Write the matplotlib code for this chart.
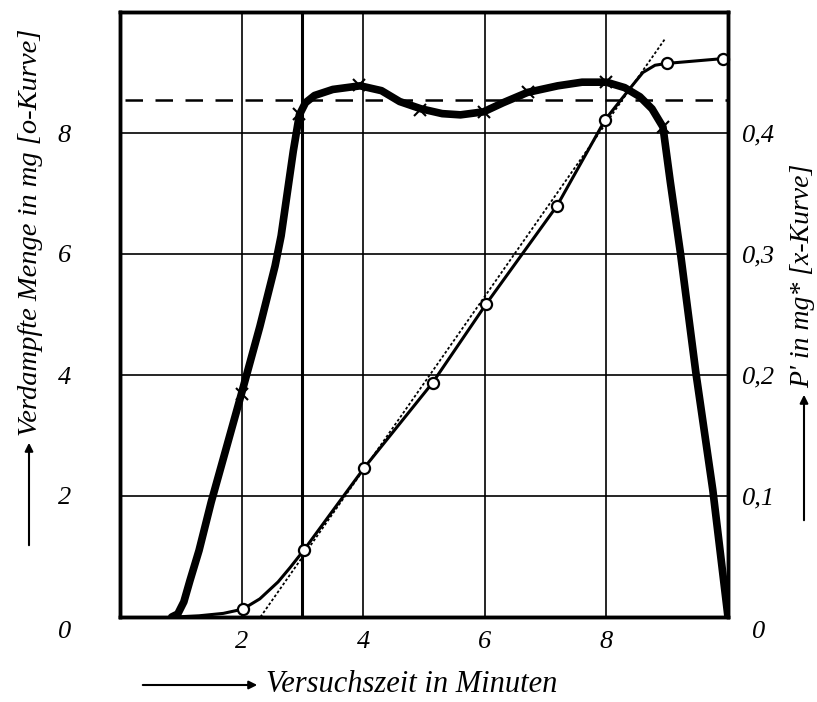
import numpy as np
import matplotlib.pyplot as plt
from matplotlib.transforms import ScaledTranslation

plt.rcParams['font.family'] = ['Liberation Serif', 'DejaVu Serif']
plt.rcParams['font.style'] = 'italic'

# x-Kurve (thick line) and its marked points
x_curve_t = [0.85, 0.95, 1.05, 1.15, 1.3, 1.5, 1.75, 2.0, 2.3, 2.55, 2.65, 2.75, 2.85, 2.95,
             3.05, 3.2, 3.5, 3.95, 4.3, 4.6, 4.95, 5.3, 5.6, 5.98, 6.3, 6.7, 7.2, 7.6, 8.0,
             8.3, 8.55, 8.75, 8.93, 9.05, 9.22, 9.47, 9.75, 10.0]
x_curve_v = [0.0, 0.05, 0.25, 0.6, 1.1, 1.9, 2.8, 3.7, 4.8, 5.8, 6.3, 7.0, 7.7, 8.3,
             8.5, 8.62, 8.72, 8.78, 8.7, 8.52, 8.4, 8.32, 8.3, 8.35, 8.5, 8.67, 8.78, 8.84, 8.84,
             8.75, 8.6, 8.4, 8.1, 7.2, 6.0, 4.05, 2.1, 0.0]
x_mark_t = [2.01, 2.94, 3.93, 4.93, 5.98, 6.71, 8.0, 8.93]
x_mark_v = [3.69, 8.31, 8.79, 8.38, 8.35, 8.67, 8.84, 8.1]

# o-Kurve (thin line) and its circles
o_curve_t = [0.9, 1.3, 1.7, 2.02, 2.3, 2.6, 2.8, 3.02, 4.02, 5.14, 6.02, 7.19, 7.98,
             8.43, 8.6, 8.8, 8.99, 9.92]
o_curve_v = [0.0, 0.02, 0.06, 0.13, 0.3, 0.58, 0.82, 1.1, 2.47, 3.87, 5.17, 6.8, 8.22,
             8.79, 9.0, 9.12, 9.15, 9.23]
o_mark_t = [2.02, 3.02, 4.02, 5.14, 6.02, 7.19, 7.98, 8.99, 9.92]
o_mark_v = [0.13, 1.1, 2.47, 3.87, 5.17, 6.8, 8.22, 9.15, 9.23]

# dotted tangent and dashed mean level
tangent_t = [2.31, 8.96]
tangent_v = [0.0, 9.55]
mean_level = 8.54

x_ticks = [2, 4, 6, 8]
y_ticks = [0, 2, 4, 6, 8]
p_ticks = [0, 0.1, 0.2, 0.3, 0.4]
p_labels = ["0", "0,1", "0,2", "0,3", "0,4"]

fig = plt.figure(figsize=(8.17, 7.02), dpi=100)
ax = fig.add_axes([120 / 817, 85 / 702, 608 / 817, 605 / 702])

# grid
for gx in [2, 4, 6, 8]:
    ax.axvline(gx, color='black', lw=1.2, zorder=1)
ax.axvline(3, color='black', lw=2.2, zorder=1)
for gy in [2, 4, 6, 8]:
    ax.axhline(gy, color='black', lw=1.2, zorder=1)

ax.plot([0.08, 10], [mean_level, mean_level], color='black', lw=1.8,
        dashes=(7, 5), zorder=2)
ax.plot(tangent_t, tangent_v, color='black', lw=1.3, dashes=(1.5, 1.2), zorder=2)

ax.plot(o_curve_t, o_curve_v, color='black', lw=2.2, zorder=3)
ax.plot(o_mark_t, o_mark_v, 'o', ms=8, mfc='white', mec='black', mew=1.6,
        zorder=5, clip_on=False)

ax.plot(x_curve_t, x_curve_v, color='black', lw=5.5, solid_capstyle='round',
        solid_joinstyle='round', zorder=4)
ax.plot(x_mark_t, x_mark_v, 'x', ms=9, color='black', mew=1.5, zorder=6)

ax.set_xlim(0, 10)
ax.set_ylim(0, 10)
for s in ax.spines.values():
    s.set_linewidth(2.5)

ax.set_xticks(x_ticks)
ax.set_xticklabels([str(t) for t in x_ticks])
ax.set_yticks(y_ticks)
ax.set_yticklabels([str(t) for t in y_ticks])
ax.tick_params(length=0, labelsize=19)
ax.tick_params(axis='y', pad=40)
ax.tick_params(axis='x', pad=10)
for lab in ax.get_xticklabels() + ax.get_yticklabels():
    lab.set_horizontalalignment('center')

ax2 = ax.twinx()
ax2.set_ylim(0, 0.5)
ax2.set_yticks(p_ticks)
ax2.set_yticklabels(p_labels)
ax2.tick_params(length=0, labelsize=19, pad=22)
for lab in ax2.get_yticklabels():
    lab.set_horizontalalignment('center')
for s in ax2.spines.values():
    s.set_linewidth(2.5)

# the two zero labels sit a little below the base line
down = ScaledTranslation(0, -12 / 100, fig.dpi_scale_trans)
for lab in [ax.get_yticklabels()[0], ax2.get_yticklabels()[0]]:
    lab.set_transform(lab.get_transform() + down)

# axis titles with arrows
arrow = dict(arrowstyle='-|>', color='black', lw=1.5, mutation_scale=12)
ax.annotate('', xy=(29 / 817, 1 - 440 / 702), xytext=(29 / 817, 1 - 548 / 702),
            xycoords='figure fraction', arrowprops=arrow)
fig.text(31 / 817, 1 - 436 / 702, 'Verdampfte Menge in mg [o-Kurve]',
         rotation=90, ha='center', va='bottom', fontsize=20.5)

ax.annotate('', xy=(804 / 817, 1 - 392 / 702), xytext=(804 / 817, 1 - 523 / 702),
            xycoords='figure fraction', arrowprops=arrow)
fig.text(803 / 817, 1 - 388 / 702, "P' in mg* [x-Kurve]",
         rotation=90, ha='center', va='bottom', fontsize=20)

ax.annotate('', xy=(260 / 817, 1 - 685 / 702), xytext=(140 / 817, 1 - 685 / 702),
            xycoords='figure fraction', arrowprops=arrow)
fig.text(266 / 817, 1 - 685 / 702, 'Versuchszeit in Minuten',
         ha='left', va='center', fontsize=22)

fig.savefig('out.png', dpi=100)
